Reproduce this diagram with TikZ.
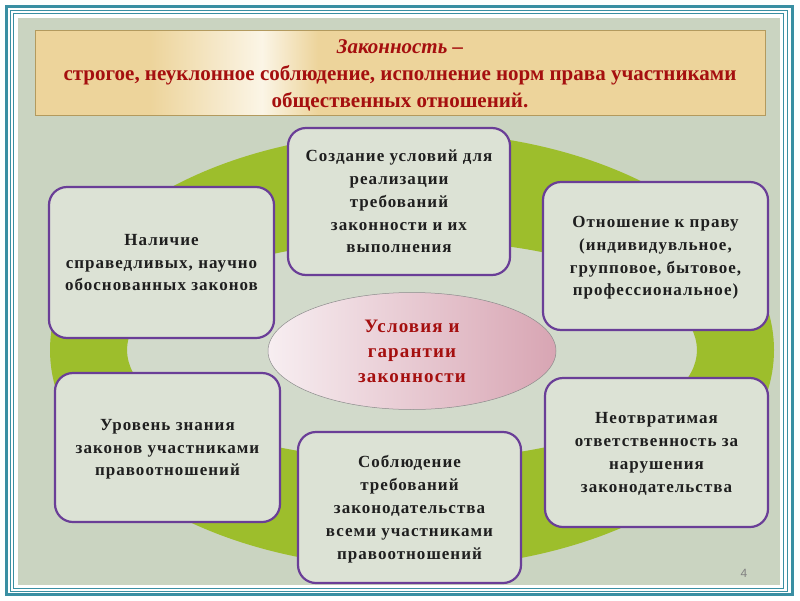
\documentclass[tikz,border=0pt]{standalone}
\usepackage{fontspec}
\setmainfont{Liberation Serif}
\setsansfont{Liberation Sans}
\newfontfamily\spacedserif[LetterSpace=6]{Liberation Serif}
\usetikzlibrary{shapes.geometric}

\definecolor{slidebg}{HTML}{CAD4C1}
\definecolor{innerbg}{HTML}{D2DACB}
\definecolor{frameteal}{HTML}{3A8FA3}
\definecolor{ringgreen}{HTML}{9DBE2C}
\definecolor{boxfill}{HTML}{DCE2D5}
\definecolor{boxline}{HTML}{6A3E97}
\definecolor{titletan}{HTML}{EDD49B}
\definecolor{titlehi}{HTML}{FBF5E6}
\definecolor{titleline}{HTML}{B39A5E}
\definecolor{darkred}{HTML}{A50F0F}
\definecolor{pinkhi}{HTML}{F7EEF1}
\definecolor{pinklo}{HTML}{D8A5B3}

\begin{document}
\begin{tikzpicture}[x=1pt, y=-1pt,
    cond/.style={draw=boxline, line width=2.2pt, fill=boxfill, rounded corners=18pt,
      align=center, text=black!88, inner sep=3pt, text depth=0pt,
      font=\spacedserif\fontsize{17}{22.8}\selectfont\bfseries},
    core/.style={ellipse, draw=black!45, line width=0.5pt, left color=pinkhi, right color=pinklo,
      align=center, text=darkred, font=\spacedserif\fontsize{19}{25}\selectfont\bfseries}]
    \useasboundingbox (0,0) rectangle (800,600);
    \fill[white] (0,0) rectangle (800,600);
    % slide frame
    \draw[frameteal, line width=3pt] (6.5,6.5) rectangle (792,594.5);
    \draw[frameteal, line width=1.5pt] (10.5,10.5) rectangle (787.5,591.5);
    \draw[frameteal, line width=1.5pt] (13.5,13.5) rectangle (783.5,588.5);
    \fill[slidebg] (18,18) rectangle (780,585);
    % green ring
    \fill[innerbg] (412,350) ellipse [x radius=285, y radius=110];
    \fill[ringgreen, even odd rule] (412,350) ellipse [x radius=362, y radius=218]
        (412,350) ellipse [x radius=285, y radius=110];
    % title
    \fill[titletan] (35,30) rectangle (765,115);
    \shade[left color=titletan, right color=titlehi] (150,30) rectangle (262,115);
    \shade[left color=titlehi, right color=titletan] (262,30) rectangle (318,115);
    \draw[titleline, line width=0.8pt] (35,30) rectangle (765,115);
    \node[align=center, text=darkred, font=\fontsize{21}{27}\selectfont\bfseries]
        (title) at (400,75.5) {\textit{Законность –}\\строгое, неуклонное соблюдение, исполнение норм права участниками\\общественных отношений.};
    % conditions
    \node[cond, minimum width=222, minimum height=147] (create) at (399,201.5)
        {Создание условий для\\реализации\\требований\\законности и их\\выполнения};
    \node[cond, minimum width=225, minimum height=151] (laws) at (161.5,262.5)
        {Наличие\\справедливых, научно\\обоснованных законов};
    \node[cond, minimum width=225, minimum height=148] (attitude) at (655.5,256)
        {Отношение к праву\\(индивидувльное,\\групповое, бытовое,\\профессиональное)};
    \node[cond, minimum width=225, minimum height=149] (knowledge) at (167.5,447.5)
        {Уровень знания\\законов участниками\\правоотношений};
    \node[cond, minimum width=223, minimum height=149] (liability) at (656.5,452.5)
        {Неотвратимая\\ответственность за\\нарушения\\законодательства};
    \node[cond, minimum width=223, minimum height=151] (comply) at (409.5,507.5)
        {Соблюдение\\требований\\законодательства\\всеми участниками\\правоотношений};
    \node[core, minimum width=288, minimum height=117] (guarantee) at (412,351)
        {Условия и\\гарантии\\законности};
    \node[text=gray, font=\sffamily\fontsize{12}{12}\selectfont] (pagenum) at (744,573) {4};
\end{tikzpicture}
\end{document}
